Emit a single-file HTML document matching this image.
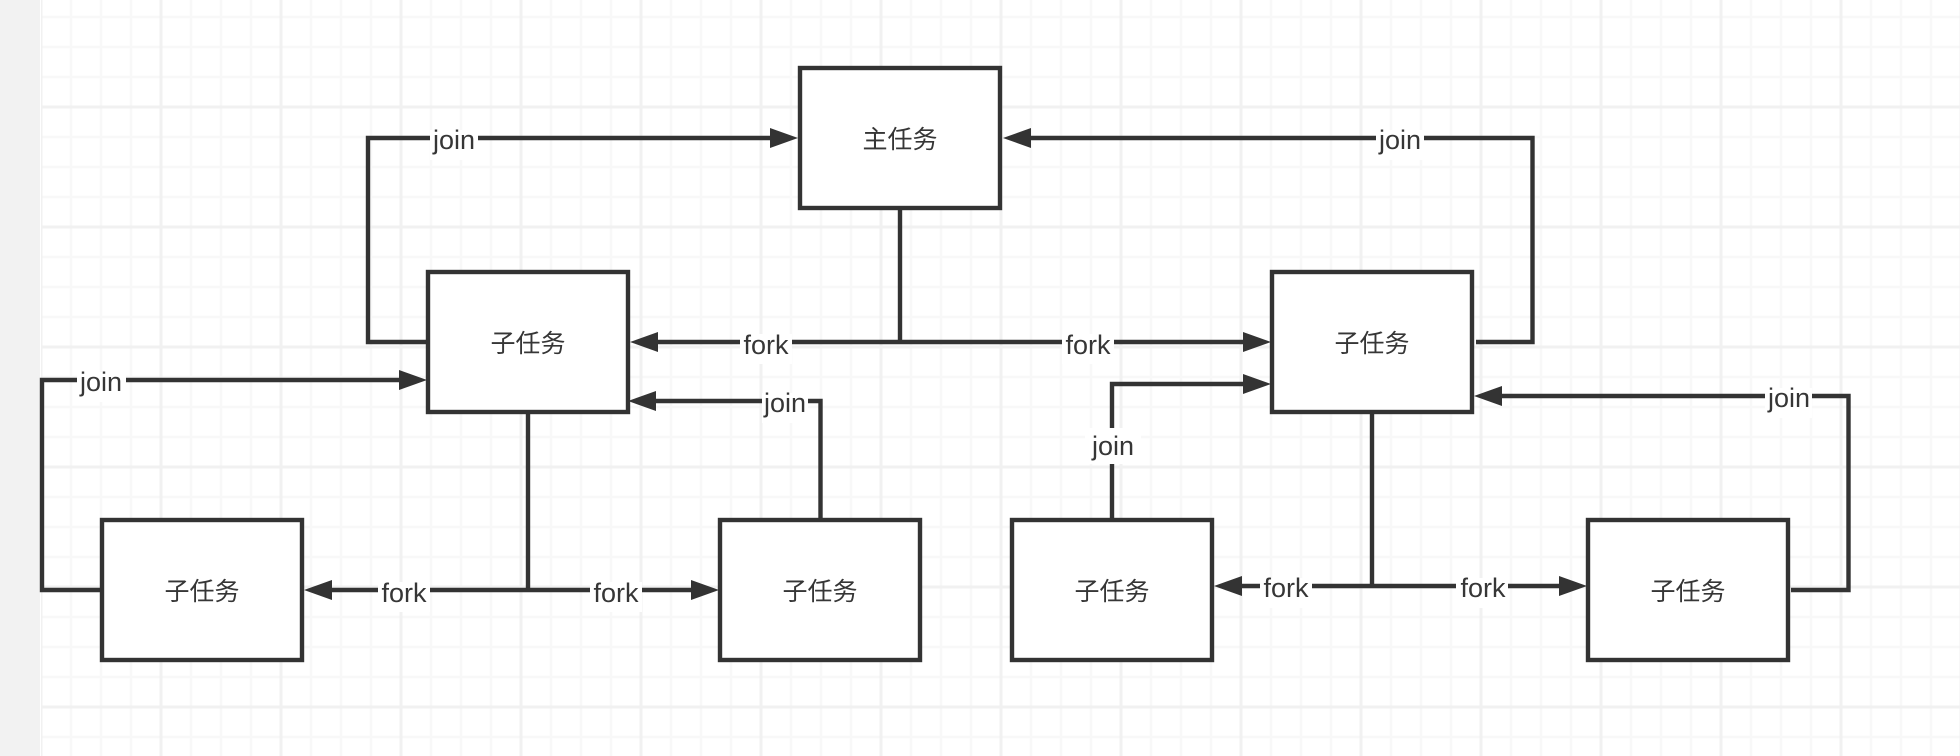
<!DOCTYPE html>
<html lang="zh">
<head>
<meta charset="utf-8">
<title>fork join</title>
<style>
html,body{margin:0;padding:0;width:1960px;height:756px;overflow:hidden;background:#fff}
svg{display:block;filter:blur(0.35px)}
text{fill:#363636;font-family:"Liberation Sans","Noto Sans CJK SC",sans-serif}
.l{font-size:27px;text-anchor:middle}
.c{font-size:25px;text-anchor:middle;font-family:"Noto Sans CJK SC","Liberation Sans",sans-serif}
</style>
</head>
<body>
<svg width="1960" height="756" viewBox="0 0 1960 756" xmlns="http://www.w3.org/2000/svg">
<defs>
<pattern id="minor" x="26" y="-28" width="30" height="30" patternUnits="userSpaceOnUse">
<path d="M15 0V30M0 15H30" fill="none" stroke="#f8f8f8" stroke-width="2.5"/>
</pattern>
<pattern id="major" x="-19" y="-73" width="120" height="120" patternUnits="userSpaceOnUse">
<path d="M60 0V120M0 60H120" fill="none" stroke="#f1f1f1" stroke-width="3"/>
</pattern>
</defs>
<rect width="1960" height="756" fill="#fff"/>
<rect x="41" width="1919" height="756" fill="url(#minor)"/>
<rect x="41" width="1919" height="756" fill="url(#major)"/>
<rect x="0" y="0" width="40" height="756" fill="#f2f2f2"/>

<g fill="none" stroke="#333" stroke-width="4.4" stroke-linejoin="miter">
<path d="M426 342H368V138H775"/>
<path d="M1476 342H1532.500V138H1026"/>
<path d="M900 208V342"/>
<path d="M655 342H1247"/>
<path d="M100 590H42V380H403"/>
<path d="M528 412V590"/>
<path d="M328 590H695"/>
<path d="M820.500 518V401H652"/>
<path d="M1112 518V384H1247"/>
<path d="M1372 412V586"/>
<path d="M1238 586H1563"/>
<path d="M1791 590H1848.500V396H1498"/>
</g>

<g fill="#333">
<polygon points="798,138 770,128 770,148"/>
<polygon points="1003,138 1031,128 1031,148"/>
<polygon points="630,342 658,332 658,352"/>
<polygon points="1271,342 1243,332 1243,352"/>
<polygon points="427,380 399,370 399,390"/>
<polygon points="304,590 332,580 332,600"/>
<polygon points="719,590 691,580 691,600"/>
<polygon points="628,401 656,391 656,411"/>
<polygon points="1271,384 1243,374 1243,394"/>
<polygon points="1214,586 1242,576 1242,596"/>
<polygon points="1587,586 1559,576 1559,596"/>
<polygon points="1474,396 1502,386 1502,406"/>
</g>

<g fill="#fff" stroke="#333" stroke-width="4.4">
<rect x="800" y="68" width="200" height="140"/>
<rect x="428" y="272" width="200" height="140"/>
<rect x="1272" y="272" width="200" height="140"/>
<rect x="102" y="520" width="200" height="140"/>
<rect x="720" y="520" width="200" height="140"/>
<rect x="1012" y="520" width="200" height="140"/>
<rect x="1588" y="520" width="200" height="140"/>
</g>

<g fill="#fff">
<rect x="430" y="130" width="48" height="30"/>
<rect x="1376" y="130" width="48" height="30"/>
<rect x="740" y="334" width="52" height="30"/>
<rect x="1062" y="334" width="52" height="30"/>
<rect x="77" y="372" width="49" height="30"/>
<rect x="762" y="393" width="46" height="30"/>
<rect x="378" y="582" width="52" height="30"/>
<rect x="590" y="582" width="52" height="30"/>
<rect x="1085" y="428" width="56" height="36"/>
<rect x="1260" y="578" width="52" height="30"/>
<rect x="1456" y="578" width="52" height="30"/>
<rect x="1765" y="388" width="47" height="30"/>
</g>

<g>
<text class="l" x="454" y="149">join</text>
<text class="l" x="1400" y="149">join</text>
<text class="l" x="766" y="354">fork</text>
<text class="l" x="1088" y="354">fork</text>
<text class="l" x="101" y="391">join</text>
<text class="l" x="785" y="412">join</text>
<text class="l" x="404" y="602">fork</text>
<text class="l" x="616" y="602">fork</text>
<text class="l" x="1113" y="455">join</text>
<text class="l" x="1286" y="597">fork</text>
<text class="l" x="1483" y="597">fork</text>
<text class="l" x="1789" y="407">join</text>
</g>

<g>
<text class="c" x="900" y="148">主任务</text>
<text class="c" x="528" y="352">子任务</text>
<text class="c" x="1372" y="352">子任务</text>
<text class="c" x="202" y="600">子任务</text>
<text class="c" x="820" y="600">子任务</text>
<text class="c" x="1112" y="600">子任务</text>
<text class="c" x="1688" y="600">子任务</text>
</g>
</svg>
</body>
</html>
